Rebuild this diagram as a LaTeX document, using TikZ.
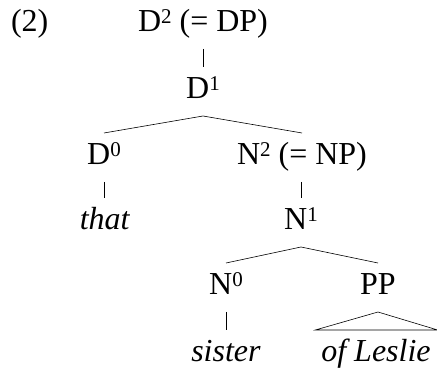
\documentclass[tikz,border=0pt]{standalone}
\usepackage{fontspec}
\setmainfont{Liberation Serif}
\usetikzlibrary{calc}
\newcommand\supnum[1]{\raisebox{8pt}{\fontsize{21}{21}\selectfont #1}}
\begin{document}
\begin{tikzpicture}[x=1pt,y=1pt,
  lab/.style={anchor=base,inner sep=0pt,outer xsep=0pt,outer ysep=10pt,
    text height=22pt,text depth=7pt,font=\fontsize{32}{36}\selectfont},
  edge/.style={line width=0.6pt}]
\useasboundingbox (0,0) rectangle (437,372);
\node[lab,anchor=base west] (ex) at (11,340) {(2)};
\node[lab] (D2) at (203,340) {D\supnum{2} (= DP)};
\node[lab] (D1) at (203,273) {D\supnum{1}};
\node[lab] (D0) at (104,207) {D\supnum{0}};
\node[lab] (N2) at (302,207) {N\supnum{2} (= NP)};
\node[lab] (that) at (105,142) {\textit{that}};
\node[lab] (N1) at (301,142) {N\supnum{1}};
\node[lab] (N0) at (226,77) {N\supnum{0}};
\node[lab] (PP) at (378,77) {PP};
\node[lab] (sister) at (226,10) {\textit{sister}};
\node[lab] (OL) at (376,10) {\textit{of Leslie}};
\draw[edge] (D1.north |- D2.south) -- (D1.north);
\draw[edge] (D0.north) -- (D1.south) -- (N2.north);
\draw[edge] (D0.south) -- (D0.south |- that.north);
\draw[edge] (N1.north |- N2.south) -- (N1.north);
\draw[edge] (N0.north) -- (N1.south) -- (PP.north);
\draw[edge] (N0.south) -- (N0.south |- sister.north);
\draw[edge] ($(OL.north west)+(-6,0)$) -- (PP.south) -- ($(OL.north east)+(7,0)$) -- cycle;
\end{tikzpicture}
\end{document}
